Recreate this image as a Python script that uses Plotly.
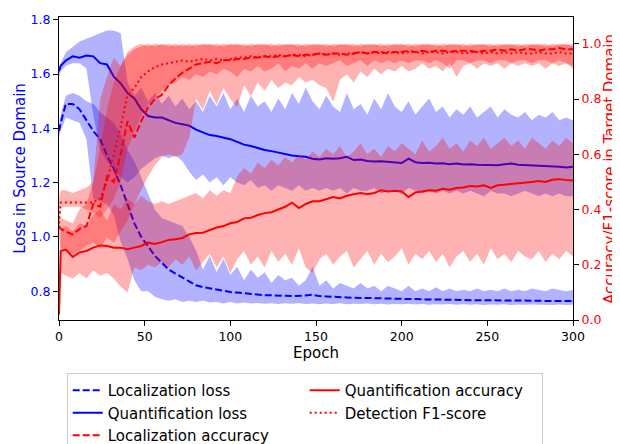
import plotly.graph_objects as go

# ---------------- data ----------------
EPOCHS = [0, 1] + list(range(4, 301, 4))

X_TICKS = [0, 50, 100, 150, 200, 250, 300]
LEFT_TICKS = [0.8, 1.0, 1.2, 1.4, 1.6, 1.8]
RIGHT_TICKS = [0.0, 0.2, 0.4, 0.6, 0.8, 1.0]

LOC_LOSS = [
    1.39, 1.42, 1.49, 1.49, 1.47, 1.43, 1.39, 1.36, 1.30, 1.25,
    1.19, 1.12, 1.05, 1.00, 0.965, 0.93, 0.905, 0.88, 0.865, 0.85,
    0.835, 0.822, 0.815, 0.81, 0.805, 0.80, 0.797, 0.795, 0.792, 0.79,
    0.788, 0.785, 0.785, 0.783, 0.783, 0.782, 0.782, 0.784, 0.787, 0.782,
    0.781, 0.779, 0.778, 0.777, 0.776, 0.776, 0.775, 0.774, 0.774, 0.773,
    0.773, 0.772, 0.771, 0.771, 0.770, 0.770, 0.769, 0.769, 0.768, 0.768,
    0.768, 0.767, 0.767, 0.767, 0.766, 0.766, 0.766, 0.766, 0.765, 0.765,
    0.765, 0.765, 0.764, 0.764, 0.764, 0.764, 0.764]
LOC_LOSS_LO = [
    1.37, 1.39, 1.44, 1.43, 1.42, 1.36, 1.14, 1.13, 1.12, 1.08,
    0.98, 0.92, 0.84, 0.80, 0.80, 0.78, 0.77, 0.765, 0.77, 0.76,
    0.765, 0.76, 0.765, 0.758, 0.76, 0.755, 0.76, 0.755, 0.758, 0.755,
    0.757, 0.754, 0.756, 0.753, 0.756, 0.754, 0.757, 0.753, 0.755, 0.752,
    0.755, 0.753, 0.756, 0.752, 0.754, 0.753, 0.755, 0.752, 0.754, 0.751,
    0.753, 0.752, 0.754, 0.751, 0.753, 0.750, 0.752, 0.751, 0.753, 0.750,
    0.752, 0.750, 0.752, 0.749, 0.751, 0.750, 0.752, 0.749, 0.751, 0.750,
    0.751, 0.749, 0.750, 0.749, 0.751, 0.749, 0.750]
LOC_LOSS_HI = [
    1.41, 1.45, 1.52, 1.53, 1.52, 1.50, 1.49, 1.46, 1.44, 1.42,
    1.38, 1.32, 1.28, 1.22, 1.16, 1.10, 1.07, 1.06, 1.05, 1.04,
    1.00, 0.95, 0.88, 0.93, 0.87, 0.92, 0.86, 0.89, 0.84, 0.88,
    0.85, 0.87, 0.83, 0.86, 0.84, 0.85, 0.82, 0.84, 0.89, 0.82,
    0.84, 0.81, 0.83, 0.82, 0.81, 0.83, 0.81, 0.82, 0.80, 0.82,
    0.81, 0.80, 0.82, 0.80, 0.81, 0.80, 0.815, 0.80, 0.81, 0.80,
    0.805, 0.80, 0.81, 0.80, 0.805, 0.80, 0.81, 0.80, 0.805, 0.80,
    0.81, 0.805, 0.80, 0.81, 0.805, 0.80, 0.805]

QUANT_LOSS = [
    1.61, 1.63, 1.65, 1.665, 1.66, 1.668, 1.665, 1.64, 1.635, 1.59,
    1.565, 1.53, 1.51, 1.47, 1.445, 1.44, 1.44, 1.43, 1.42, 1.415,
    1.41, 1.395, 1.385, 1.375, 1.372, 1.367, 1.36, 1.35, 1.34, 1.335,
    1.327, 1.32, 1.316, 1.31, 1.305, 1.30, 1.297, 1.295, 1.288, 1.285,
    1.29, 1.288, 1.29, 1.295, 1.283, 1.285, 1.28, 1.278, 1.279, 1.276,
    1.275, 1.272, 1.288, 1.275, 1.272, 1.273, 1.27, 1.271, 1.268, 1.27,
    1.267, 1.268, 1.266, 1.265, 1.266, 1.264, 1.268, 1.27, 1.266, 1.265,
    1.263, 1.262, 1.26, 1.261, 1.258, 1.256, 1.258]
QUANT_LOSS_LO = [
    1.59, 1.61, 1.63, 1.64, 1.64, 1.62, 1.45, 1.32, 1.28, 1.25,
    1.22, 1.20, 1.22, 1.25, 1.27, 1.29, 1.30, 1.29, 1.30, 1.28,
    1.24, 1.21, 1.23, 1.20, 1.22, 1.19, 1.22, 1.20, 1.19, 1.21,
    1.18, 1.19, 1.17, 1.19, 1.18, 1.17, 1.19, 1.17, 1.18, 1.17,
    1.18, 1.17, 1.18, 1.16, 1.18, 1.17, 1.17, 1.18, 1.16, 1.17,
    1.17, 1.16, 1.18, 1.17, 1.16, 1.17, 1.16, 1.17, 1.16, 1.17,
    1.16, 1.17, 1.16, 1.15, 1.17, 1.16, 1.16, 1.15, 1.16, 1.17,
    1.16, 1.15, 1.16, 1.15, 1.16, 1.15, 1.15]
QUANT_LOSS_HI = [
    1.62, 1.64, 1.68, 1.70, 1.72, 1.73, 1.74, 1.75, 1.76, 1.76,
    1.75, 1.57, 1.52, 1.55, 1.50, 1.53, 1.49, 1.52, 1.48, 1.51,
    1.47, 1.50, 1.46, 1.52, 1.48, 1.53, 1.47, 1.51, 1.46, 1.52,
    1.48, 1.50, 1.46, 1.51, 1.47, 1.53, 1.49, 1.55, 1.50, 1.47,
    1.52, 1.48, 1.46, 1.53, 1.47, 1.49, 1.45, 1.51, 1.47, 1.53,
    1.48, 1.46, 1.50, 1.45, 1.48, 1.51, 1.46, 1.48, 1.44, 1.47,
    1.45, 1.48, 1.44, 1.46, 1.48, 1.44, 1.47, 1.45, 1.44, 1.46,
    1.43, 1.45, 1.44, 1.46, 1.43, 1.44, 1.43]

LOC_ACC = [
    0.34, 0.33, 0.32, 0.31, 0.33, 0.34, 0.42, 0.41, 0.52, 0.50,
    0.60, 0.72, 0.66, 0.72, 0.77, 0.80, 0.815, 0.85, 0.875, 0.895,
    0.91, 0.925, 0.93, 0.935, 0.93, 0.94, 0.94, 0.945, 0.945, 0.95,
    0.95, 0.955, 0.95, 0.955, 0.955, 0.96, 0.955, 0.96, 0.96, 0.965,
    0.96, 0.965, 0.965, 0.96, 0.965, 0.97, 0.965, 0.97, 0.97, 0.965,
    0.97, 0.97, 0.975, 0.97, 0.975, 0.97, 0.975, 0.975, 0.97, 0.975,
    0.975, 0.975, 0.97, 0.975, 0.975, 0.98, 0.975, 0.98, 0.975, 0.98,
    0.98, 0.975, 0.98, 0.98, 0.985, 0.98, 0.98]
LOC_ACC_LO = [
    0.30, 0.26, 0.25, 0.24, 0.25, 0.27, 0.28, 0.26, 0.30, 0.28,
    0.32, 0.36, 0.42, 0.47, 0.52, 0.56, 0.59, 0.60, 0.59, 0.60,
    0.66, 0.80, 0.76, 0.83, 0.78, 0.84, 0.80, 0.77, 0.85, 0.81,
    0.86, 0.83, 0.87, 0.84, 0.86, 0.85, 0.88, 0.86, 0.87, 0.85,
    0.84, 0.79, 0.87, 0.89, 0.86, 0.90, 0.88, 0.91, 0.89, 0.91,
    0.90, 0.92, 0.90, 0.91, 0.93, 0.91, 0.92, 0.90, 0.93, 0.88,
    0.92, 0.93, 0.91, 0.93, 0.92, 0.93, 0.91, 0.93, 0.92, 0.93,
    0.92, 0.93, 0.91, 0.93, 0.92, 0.93, 0.91]
LOC_ACC_HI = [
    0.36, 0.37, 0.36, 0.35, 0.40, 0.42, 0.50, 0.80, 0.88, 0.95,
    0.92, 0.97, 0.99, 1.00, 0.99, 1.00, 0.995, 1.00, 0.99, 1.00,
    0.99, 1.00, 0.995, 1.00, 0.99, 1.00, 0.995, 1.00, 0.99, 1.00,
    0.995, 1.00, 0.99, 1.00, 0.995, 1.00, 0.99, 1.00, 0.995, 1.00,
    0.99, 1.00, 0.995, 1.00, 0.99, 1.00, 0.995, 1.00, 0.99, 1.00,
    0.995, 1.00, 0.99, 1.00, 0.995, 1.00, 0.99, 1.00, 0.995, 1.00,
    0.99, 1.00, 0.995, 1.00, 0.99, 1.00, 0.995, 1.00, 0.99, 1.00,
    0.995, 1.00, 0.99, 1.00, 0.995, 1.00, 0.99]

QUANT_ACC = [
    0.02, 0.25, 0.255, 0.228, 0.245, 0.25, 0.262, 0.27, 0.268, 0.262,
    0.262, 0.256, 0.262, 0.268, 0.28, 0.275, 0.282, 0.29, 0.292, 0.297,
    0.31, 0.315, 0.316, 0.325, 0.335, 0.34, 0.35, 0.355, 0.368, 0.37,
    0.38, 0.387, 0.39, 0.40, 0.41, 0.425, 0.405, 0.42, 0.43, 0.43,
    0.438, 0.445, 0.44, 0.45, 0.455, 0.46, 0.455, 0.46, 0.47, 0.465,
    0.468, 0.465, 0.445, 0.462, 0.465, 0.47, 0.468, 0.475, 0.472, 0.478,
    0.48, 0.485, 0.483, 0.488, 0.478, 0.488, 0.49, 0.492, 0.495, 0.498,
    0.50, 0.503, 0.50, 0.508, 0.51, 0.507, 0.505]
QUANT_ACC_LO = [
    0.00, 0.17, 0.16, 0.15, 0.17, 0.15, 0.18, 0.16, 0.17, 0.15,
    0.12, 0.10, 0.19, 0.18, 0.20, 0.19, 0.21, 0.19, 0.22, 0.20,
    0.23, 0.18, 0.21, 0.24, 0.19, 0.23, 0.17, 0.22, 0.25, 0.20,
    0.23, 0.19, 0.25, 0.21, 0.24, 0.20, 0.26, 0.19, 0.17, 0.22,
    0.24, 0.20, 0.23, 0.25, 0.19, 0.22, 0.25, 0.20, 0.24, 0.21,
    0.23, 0.26, 0.20, 0.24, 0.22, 0.25, 0.21, 0.24, 0.19, 0.23,
    0.25, 0.21, 0.24, 0.20, 0.26, 0.22, 0.24, 0.21, 0.25, 0.23,
    0.22, 0.25, 0.21, 0.24, 0.22, 0.25, 0.23]
QUANT_ACC_HI = [
    0.05, 0.33, 0.34, 0.32, 0.35, 0.34, 0.38, 0.40, 0.36, 0.42,
    0.40, 0.44, 0.42, 0.45, 0.43, 0.42, 0.43, 0.42, 0.43, 0.44,
    0.45, 0.46, 0.44, 0.47, 0.45, 0.47, 0.46, 0.52, 0.55, 0.53,
    0.57, 0.55, 0.58, 0.56, 0.59, 0.57, 0.60, 0.58, 0.61, 0.59,
    0.62, 0.60, 0.63, 0.59, 0.61, 0.64, 0.60, 0.62, 0.59, 0.63,
    0.61, 0.64, 0.62, 0.60, 0.65, 0.61, 0.63, 0.66, 0.62, 0.64,
    0.61, 0.65, 0.63, 0.66, 0.62, 0.64, 0.66, 0.63, 0.65, 0.62,
    0.66, 0.64, 0.62, 0.65, 0.63, 0.66, 0.64]

F1 = [
    0.35, 0.425, 0.425, 0.425, 0.425, 0.425, 0.425, 0.44, 0.50, 0.60,
    0.70, 0.815, 0.84, 0.88, 0.90, 0.915, 0.925, 0.93, 0.935, 0.94,
    0.935, 0.94, 0.945, 0.94, 0.945, 0.94, 0.945, 0.95, 0.95, 0.955,
    0.95, 0.955, 0.955, 0.96, 0.955, 0.96, 0.96, 0.955, 0.96, 0.965,
    0.96, 0.965, 0.96, 0.965, 0.965, 0.97, 0.965, 0.97, 0.965, 0.97,
    0.97, 0.965, 0.97, 0.97, 0.965, 0.97, 0.97, 0.965, 0.97, 0.97,
    0.965, 0.97, 0.97, 0.965, 0.97, 0.965, 0.97, 0.965, 0.97, 0.965,
    0.965, 0.97, 0.965, 0.965, 0.97, 0.965, 0.965]
F1_LO = [
    0.33, 0.41, 0.41, 0.41, 0.41, 0.40, 0.39, 0.37, 0.40, 0.44,
    0.50, 0.62, 0.68, 0.74, 0.78, 0.80, 0.83, 0.85, 0.86, 0.88,
    0.87, 0.89, 0.88, 0.90, 0.89, 0.91, 0.90, 0.88, 0.91, 0.90,
    0.92, 0.90, 0.91, 0.93, 0.90, 0.92, 0.91, 0.93, 0.91, 0.93,
    0.92, 0.93, 0.94, 0.92, 0.93, 0.94, 0.92, 0.94, 0.93, 0.94,
    0.93, 0.94, 0.93, 0.94, 0.94, 0.93, 0.94, 0.93, 0.91, 0.94,
    0.94, 0.93, 0.94, 0.94, 0.93, 0.94, 0.94, 0.93, 0.94, 0.94,
    0.93, 0.94, 0.94, 0.93, 0.94, 0.93, 0.92]
F1_HI = [
    0.44, 0.47, 0.47, 0.46, 0.47, 0.48, 0.50, 0.62, 0.76, 0.86,
    0.92, 0.96, 0.98, 0.99, 1.00, 0.99, 1.00, 0.99, 1.00, 0.99,
    1.00, 0.99, 1.00, 0.995, 1.00, 0.99, 1.00, 0.995, 1.00, 0.99,
    1.00, 0.995, 1.00, 0.99, 1.00, 0.995, 1.00, 0.99, 1.00, 0.995,
    1.00, 0.99, 1.00, 0.995, 1.00, 0.99, 1.00, 0.995, 1.00, 0.99,
    1.00, 0.995, 1.00, 0.99, 1.00, 0.995, 1.00, 0.99, 1.00, 0.995,
    1.00, 0.99, 1.00, 0.995, 1.00, 0.99, 1.00, 0.995, 1.00, 0.99,
    1.00, 0.995, 1.00, 0.99, 1.00, 0.995, 1.00]

# ---------------- styles ----------------
BLUE = "#0000ff"
RED = "#ff0000"
BLUE_FILL = "rgba(0,0,255,0.3)"
RED_FILL = "rgba(255,0,0,0.3)"
DASH = "7px,3px"
DOT = "2px,3px"
FONT = "DejaVu Sans"


def band(lo, hi, color, yaxis):
    return go.Scatter(
        x=list(EPOCHS) + list(EPOCHS)[::-1],
        y=list(hi) + list(lo)[::-1],
        fill="toself", fillcolor=color, mode="lines",
        line=dict(width=0), hoverinfo="skip", showlegend=False, yaxis=yaxis)


def line(y, color, dash, name, yaxis, rank):
    return go.Scatter(
        x=EPOCHS, y=y, mode="lines", name=name, yaxis=yaxis,
        line=dict(color=color, width=2, dash=dash), legendrank=rank)


fig = go.Figure()
# left axis (losses)
fig.add_trace(band(LOC_LOSS_LO, LOC_LOSS_HI, BLUE_FILL, "y"))
fig.add_trace(line(LOC_LOSS, BLUE, DASH, "Localization loss", "y", 1))
fig.add_trace(band(QUANT_LOSS_LO, QUANT_LOSS_HI, BLUE_FILL, "y"))
fig.add_trace(line(QUANT_LOSS, BLUE, "solid", "Quantification loss", "y", 3))
# right axis (accuracies)
fig.add_trace(band(LOC_ACC_LO, LOC_ACC_HI, RED_FILL, "y2"))
fig.add_trace(line(LOC_ACC, RED, DASH, "Localization accuracy", "y2", 5))
fig.add_trace(band(QUANT_ACC_LO, QUANT_ACC_HI, RED_FILL, "y2"))
fig.add_trace(line(QUANT_ACC, RED, "solid", "Quantification accuracy", "y2", 2))
fig.add_trace(band(F1_LO, F1_HI, RED_FILL, "y2"))
fig.add_trace(line(F1, RED, DOT, "Detection F1-score", "y2", 4))

common = dict(showgrid=False, zeroline=False, ticks="outside", ticklen=5,
              tickwidth=1, tickcolor="black", showline=True,
              linecolor="black", linewidth=1)

# page body adds an 8px offset; figure is sized to fill the rest of the window
fig.update_layout(
    width=612, height=436,
    margin=dict(l=51, r=47, t=9, b=124, autoexpand=False),
    paper_bgcolor="white", plot_bgcolor="white",
    font=dict(family=FONT, size=12.5, color="black"),
    xaxis=dict(range=[0, 300], tickvals=X_TICKS, mirror=True,
               tickfont=dict(size=12.5, color="black"),
               title=dict(text="Epoch", font=dict(size=15, color="black"),
                          standoff=4),
               **common),
    yaxis=dict(range=[0.694, 1.81], tickvals=LEFT_TICKS, tickformat=".1f",
               tickfont=dict(size=12.5, color=BLUE),
               title=dict(text="Loss in Source Domain",
                          font=dict(size=15, color=BLUE), standoff=1),
               **common),
    yaxis2=dict(range=[0, 1.097], tickvals=RIGHT_TICKS, tickformat=".1f",
                overlaying="y", side="right",
                tickfont=dict(size=12.5, color=RED),
                **common),
    annotations=[dict(
        text="Accuracy/F1-score in Target Domain", xref="paper", yref="paper",
        x=1.071, y=0.5, xanchor="center", yanchor="middle", textangle=-90,
        showarrow=False, borderpad=0,
        font=dict(size=15, color=RED, family=FONT))],
    legend=dict(orientation="h", x=0.015, xanchor="left", y=-0.175,
                yanchor="top", entrywidth=192, entrywidthmode="pixels",
                bordercolor="#cccccc", borderwidth=1, bgcolor="white",
                font=dict(size=15, color="black", family=FONT),
                traceorder="normal"),
    showlegend=True,
)

fig.write_html("out.html")
